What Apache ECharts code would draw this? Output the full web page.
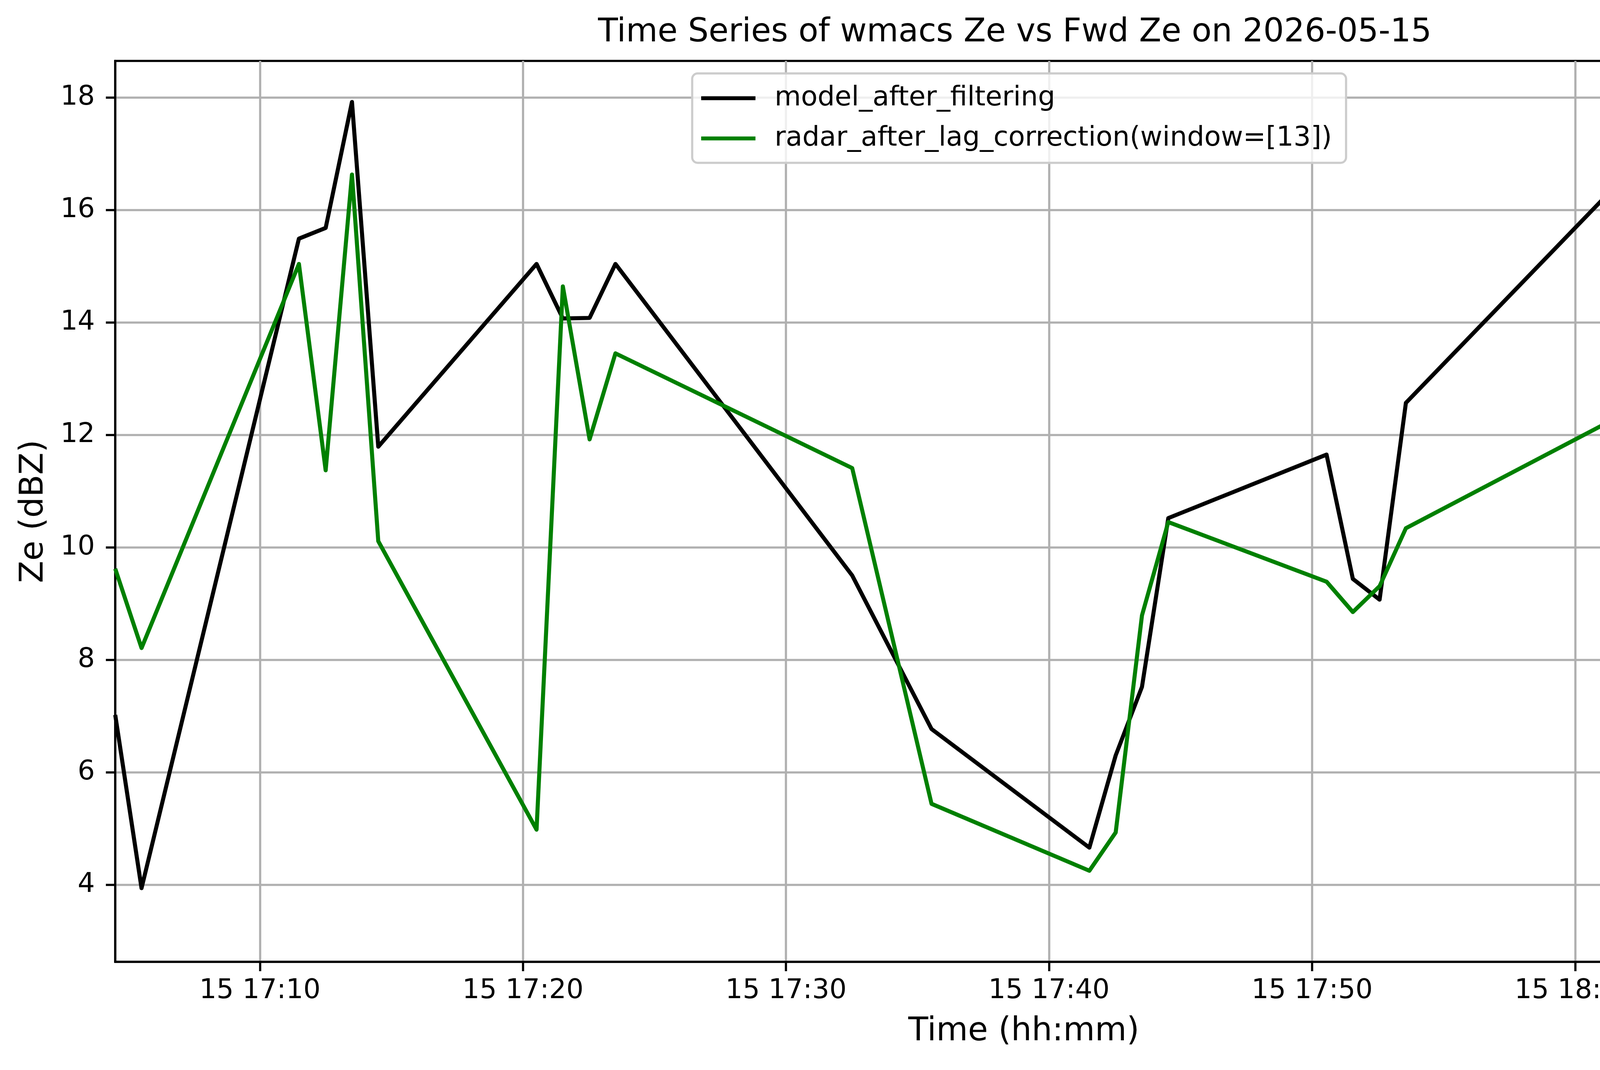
<!DOCTYPE html>
<html>
<head>
<meta charset="utf-8">
<title>wmacs Ze vs Fwd Ze</title>
<script src="https://cdn.jsdelivr.net/npm/echarts@6/dist/echarts.min.js"></script>
<style>
    html, body { margin: 0; padding: 0; background: #ffffff; }
    #main { width: 4995px; height: 2740px; }
</style>
</head>
<body>
<div id="main"></div>
<script>
    'use strict';

    var day = '2026-05-15';

    // sample times (hh:mm:ss)
    var times = [
        '17:04:30', '17:05:30', '17:11:29', '17:12:30', '17:13:30', '17:14:30',
        '17:20:31', '17:21:31', '17:22:32', '17:23:31', '17:32:31', '17:35:32',
        '17:41:32', '17:42:32', '17:43:32', '17:44:32', '17:50:33', '17:51:33',
        '17:52:34', '17:53:34', '18:02:35', '18:03:35', '18:05:35', '18:11:33',
        '18:12:33', '18:13:35'
    ];

    // model_after_filtering
    var modelZe = [
        7.02, 3.94, 15.49, 15.68, 17.92, 11.79,
        15.04, 14.07, 14.08, 15.04, 9.50, 6.77,
        4.66, 6.30, 7.52, 10.52, 11.65, 9.44,
        9.07, 12.57, 16.93, 15.55, 13.20, 12.99,
        6.42, 3.88
    ];

    // radar_after_lag_correction(window=[13])
    var radarZe = [
        9.62, 8.21, 15.04, 11.37, 16.63, 10.11,
        4.98, 14.64, 11.92, 13.45, 11.41, 5.44,
        4.25, 4.93, 8.79, 10.45, 9.39, 8.85,
        9.31, 10.34, 12.55, 12.01, 12.07, 11.76,
        3.37, 4.53
    ];

    var seriesNames = ['model_after_filtering', 'radar_after_lag_correction(window=[13])'];

    // tick labels
    var xTicks = ['17:10', '17:20', '17:30', '17:40', '17:50', '18:00', '18:10'];
    var yTicks = [4, 6, 8, 10, 12, 14, 16, 18];
    var yMin = 2.63;
    var yMax = 18.65;

    function toStamp(hms) {
        return new Date(day + 'T' + hms).getTime();
    }

    function pad(n) {
        return n < 10 ? '0' + n : '' + n;
    }

    function pairs(values) {
        var out = [];
        times.forEach(function (t, i) {
            out.push([toStamp(t), values[i]]);
        });
        return out;
    }

    var xTickValues = xTicks.map(function (t) { return toStamp(t + ':00'); });

    var font = 'DejaVu Sans';
    var tickSize = 69.4;
    var labelSize = 83.3;
    var spine = 5.6;

    var chart = echarts.init(document.getElementById('main'), null, {renderer: 'canvas'});

    var option = {
        backgroundColor: '#ffffff',
        animation: false,
        title: {
            text: 'Time Series of wmacs Ze vs Fwd Ze on ' + day,
            left: 2593,
            top: 38,
            textAlign: 'center',
            textStyle: {
                fontFamily: font,
                fontSize: labelSize,
                fontWeight: 'normal',
                color: '#000000'
            }
        },
        legend: {
            orient: 'vertical',
            left: 1772,
            top: 188,
            padding: [29, 36, 28, 23],
            itemGap: 34,
            itemWidth: 139,
            itemHeight: 10,
            icon: 'rect',
            backgroundColor: 'rgba(255,255,255,0.8)',
            borderColor: '#cccccc',
            borderWidth: 5.5,
            borderRadius: 14,
            data: seriesNames,
            textStyle: {
                fontFamily: font,
                fontSize: tickSize,
                color: '#000000',
                padding: [0, 0, 0, 44]
            }
        },
        grid: {
            left: 295,
            top: 156,
            right: 48,
            bottom: 277,
            containLabel: false,
            outerBoundsMode: 'none',
            show: true,
            borderColor: '#000000',
            borderWidth: spine,
            backgroundColor: 'transparent'
        },
        xAxis: {
            type: 'value',
            min: 'dataMin',
            max: 'dataMax',
            scale: true,
            name: 'Time (hh:mm)',
            nameLocation: 'middle',
            nameGap: 138,
            nameTextStyle: {fontFamily: font, fontSize: labelSize, color: '#000000'},
            axisLine: {show: true, lineStyle: {color: '#000000', width: spine}},
            axisTick: {
                show: true,
                length: 24,
                inside: false,
                lineStyle: {color: '#000000', width: spine},
                customValues: xTickValues
            },
            axisLabel: {
                margin: 40,
                fontFamily: font,
                fontSize: tickSize,
                color: '#000000',
                customValues: xTickValues,
                formatter: function (v) {
                    var d = new Date(v);
                    return d.getDate() + ' ' + pad(d.getHours()) + ':' + pad(d.getMinutes());
                }
            },
            splitLine: {show: true, lineStyle: {color: '#b0b0b0', width: 5.6}}
        },
        yAxis: {
            type: 'value',
            min: yMin,
            max: yMax,
            name: 'Ze (dBZ)',
            nameLocation: 'middle',
            nameGap: 166,
            nameRotate: 90,
            nameTextStyle: {fontFamily: font, fontSize: labelSize, color: '#000000'},
            axisLine: {show: true, lineStyle: {color: '#000000', width: spine}},
            axisTick: {
                show: true,
                length: 24,
                inside: false,
                lineStyle: {color: '#000000', width: spine},
                customValues: yTicks
            },
            axisLabel: {
                margin: 52,
                fontFamily: font,
                fontSize: tickSize,
                color: '#000000',
                customValues: yTicks
            },
            splitLine: {show: true, lineStyle: {color: '#b0b0b0', width: 5.6}}
        },
        series: [
            {
                name: seriesNames[0],
                type: 'line',
                data: pairs(modelZe),
                symbol: 'none',
                clip: true,
                color: '#000000',
                lineStyle: {color: '#000000', width: 10.4, join: 'round'}
            },
            {
                name: seriesNames[1],
                type: 'line',
                data: pairs(radarZe),
                symbol: 'none',
                clip: true,
                color: '#008000',
                lineStyle: {color: '#008000', width: 10.4, join: 'round'}
            }
        ]
    };

    chart.setOption(option);
</script>
</body>
</html>
